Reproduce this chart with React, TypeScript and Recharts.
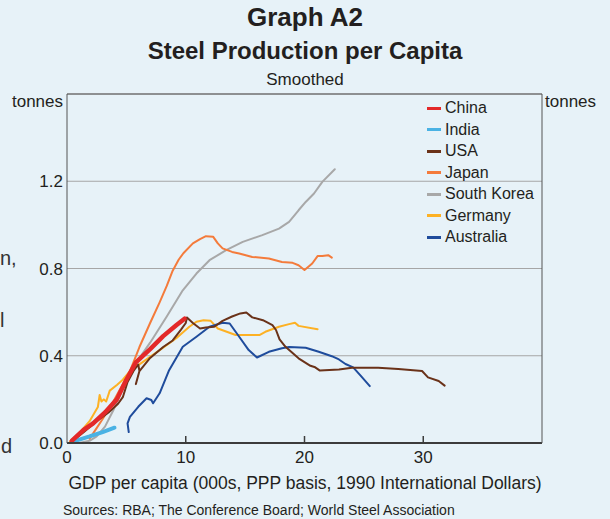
import { LineChart, Line, XAxis, YAxis, CartesianGrid, ReferenceLine } from 'recharts';

const FONT = "Arial, 'Liberation Sans', Helvetica, sans-serif";
const INK = '#231F20';
const BG = '#E7F2F8';

type Pt = [number, number];

// GDP per capita (000s) vs steel production per capita (tonnes)
const china: Pt[] = [
  [0.4, 0.01], [1.4, 0.06], [2.2, 0.09], [3.2, 0.14], [4.2, 0.2], [5.0, 0.29],
  [5.8, 0.37], [7.0, 0.43], [8.1, 0.49], [9.2, 0.54], [9.9, 0.57],
];
const india: Pt[] = [[0.7, 0.01], [1.9, 0.03], [3.0, 0.05], [4.0, 0.07]];
const usa: Pt[] = [
  [0.25, 0.0], [1.4, 0.05], [2.5, 0.1], [3.5, 0.14], [4.3, 0.18], [4.7, 0.21], [5.1, 0.28],
  [5.6, 0.33], [6.0, 0.36], [6.1, 0.33], [5.8, 0.27], [6.1, 0.33], [7.0, 0.39], [8.1, 0.44],
  [8.9, 0.47], [9.6, 0.52], [10.0, 0.55], [10.1, 0.575], [10.6, 0.55], [11.2, 0.525],
  [11.7, 0.53], [12.4, 0.533], [13.1, 0.56], [13.9, 0.58], [14.6, 0.594], [15.1, 0.598],
  [15.6, 0.576], [16.5, 0.563], [17.3, 0.54], [17.6, 0.518], [17.9, 0.475], [18.4, 0.441],
  [19.5, 0.388], [20.5, 0.354], [20.9, 0.347], [21.3, 0.332], [22.9, 0.337], [24.0, 0.345],
  [26.2, 0.345], [27.9, 0.339], [29.9, 0.33], [30.4, 0.301], [31.3, 0.284], [31.8, 0.263],
];
const japan: Pt[] = [
  [1.9, 0.02], [2.4, 0.06], [3.0, 0.11], [3.8, 0.18], [4.5, 0.25], [5.3, 0.33], [6.1, 0.44],
  [7.0, 0.55], [7.8, 0.645], [8.4, 0.72], [8.9, 0.79], [9.4, 0.84], [9.8, 0.87], [10.6, 0.915],
  [11.2, 0.935], [11.7, 0.948], [12.3, 0.946], [12.7, 0.915], [13.1, 0.892], [13.9, 0.876],
  [14.5, 0.869], [15.6, 0.853], [17.0, 0.846], [18.1, 0.83], [19.0, 0.826], [19.5, 0.815],
  [20.0, 0.793], [20.65, 0.823], [21.1, 0.857], [21.5, 0.857], [22.0, 0.861], [22.3, 0.85],
];
const southKorea: Pt[] = [
  [1.0, 0.0], [1.9, 0.01], [2.5, 0.03], [3.2, 0.075], [3.9, 0.15], [4.6, 0.24], [5.6, 0.35],
  [7.0, 0.46], [8.4, 0.58], [9.75, 0.7], [10.9, 0.777], [12.0, 0.838], [13.4, 0.884],
  [14.8, 0.922], [16.45, 0.953], [17.85, 0.983], [18.7, 1.014], [19.5, 1.067], [20.1, 1.105],
  [20.8, 1.144], [21.5, 1.197], [22.55, 1.255],
];
const germany: Pt[] = [
  [0.25, 0.006], [1.1, 0.05], [1.9, 0.1], [2.6, 0.165], [2.75, 0.22], [2.9, 0.19], [3.1, 0.2],
  [3.3, 0.19], [3.6, 0.24], [4.2, 0.266], [4.7, 0.29], [5.3, 0.33], [6.4, 0.372], [7.8, 0.426],
  [9.2, 0.48], [10.3, 0.533], [10.9, 0.556], [11.5, 0.563], [12.1, 0.56], [12.7, 0.525],
  [14.2, 0.495], [16.2, 0.495], [16.7, 0.51], [17.85, 0.533], [18.7, 0.545], [19.2, 0.551],
  [19.5, 0.537], [21.1, 0.521],
];
const australia: Pt[] = [
  [5.2, 0.05], [5.1, 0.09], [5.3, 0.12], [6.0, 0.166], [6.7, 0.205], [7.1, 0.197], [7.25, 0.182],
  [7.8, 0.228], [8.6, 0.334], [9.75, 0.441], [10.9, 0.487], [12.0, 0.533], [13.1, 0.551],
  [13.7, 0.548], [14.5, 0.487], [15.3, 0.426], [16.0, 0.392], [17.0, 0.418], [18.1, 0.434],
  [18.7, 0.44], [20.1, 0.437], [21.2, 0.418], [22.3, 0.398], [22.9, 0.383], [23.45, 0.362],
  [24.1, 0.347], [24.8, 0.304], [25.5, 0.261],
];

const X_TICKS = [0, 10, 20, 30];
const Y_TICKS = [0, 0.4, 0.8, 1.2];

const SERIES = [
  { name: 'China', color: '#E3292A', width: 4.5, points: china },
  { name: 'India', color: '#4AB2E4', width: 4, points: india },
  { name: 'USA', color: '#6A3219', width: 2, points: usa },
  { name: 'Japan', color: '#F47B3B', width: 2, points: japan },
  { name: 'South Korea', color: '#A8A8A8', width: 2, points: southKorea },
  { name: 'Germany', color: '#FDB124', width: 2, points: germany },
  { name: 'Australia', color: '#1F4C9C', width: 2, points: australia },
];
const DRAW_ORDER = ['South Korea', 'Japan', 'Germany', 'Australia', 'USA', 'India', 'China'];

const yTick = { fontSize: 17, fill: INK, fontFamily: FONT };

function XTick({ x, y, payload }: any) {
  return (
    <g>
      {payload.value > 0 && (
        <line x1={x} x2={x} y1={y} y2={y - 7} stroke="#3C3C3C" strokeWidth={1.5} />
      )}
      <text x={x} y={y + 20} textAnchor="middle" fontSize={17} fill={INK} fontFamily={FONT}>
        {payload.value}
      </text>
    </g>
  );
}

const abs = (top: number, extra: React.CSSProperties = {}): React.CSSProperties => ({
  position: 'absolute', top, whiteSpace: 'nowrap', ...extra,
});

export default function App() {
  return (
    <div style={{
      position: 'absolute', left: 0, top: 0, width: 610, height: 519,
      background: BG, fontFamily: FONT, color: INK, overflow: 'hidden',
    }}>
      <LineChart
        width={610}
        height={519}
        margin={{ top: 94, right: 0, bottom: 0, left: 0 }}
        style={{ position: 'absolute', left: 0, top: 0 }}
      >
        <CartesianGrid yAxisId="left" vertical={false} stroke="#A6A6A6" />
        <XAxis
          type="number" dataKey="x" domain={[0, 40]} ticks={X_TICKS} height={76}
          tickSize={0} tickMargin={0} tickLine={false} tick={<XTick />}
          axisLine={{ stroke: '#3C3C3C', strokeWidth: 2 }} allowDataOverflow
        />
        <YAxis
          yAxisId="left" orientation="left" width={67} domain={[0, 1.6]} ticks={Y_TICKS}
          tickFormatter={(v: number) => v.toFixed(1)} tickSize={0} tickMargin={4}
          tickLine={false} tick={yTick} axisLine={{ stroke: '#555' }}
        />
        <YAxis
          yAxisId="right" orientation="right" width={68} domain={[0, 1.6]} ticks={Y_TICKS}
          tickFormatter={(v: number) => v.toFixed(1)} tickSize={0} tickMargin={3}
          tickLine={false} tick={yTick} axisLine={{ stroke: '#555' }}
        />
        <ReferenceLine yAxisId="left" y={1.6} stroke="#555" ifOverflow="visible" />
        {DRAW_ORDER.map((n) => {
          const s = SERIES.find((d) => d.name === n)!;
          return (
            <Line
              key={s.name}
              name={s.name}
              yAxisId="left"
              data={s.points.map(([x, y]) => ({ x, y }))}
              dataKey="y"
              type="linear"
              stroke={s.color}
              strokeWidth={s.width}
              strokeLinejoin="round"
              strokeLinecap="round"
              dot={false}
              activeDot={false}
              isAnimationActive={false}
            />
          );
        })}
      </LineChart>

      {/* titles */}
      <div style={abs(4, { left: 0, width: 610, textAlign: 'center', fontSize: 26, lineHeight: '26px', fontWeight: 700 })}>
        Graph A2
      </div>
      <div style={abs(39, { left: 0, width: 610, textAlign: 'center', fontSize: 24, lineHeight: '24px', fontWeight: 700 })}>
        Steel Production per Capita
      </div>
      <div style={abs(71, { left: 0, width: 610, textAlign: 'center', fontSize: 17, lineHeight: '17px' })}>
        Smoothed
      </div>

      {/* axis units */}
      <div style={abs(93, { left: 0, width: 63, textAlign: 'right', fontSize: 17, lineHeight: '17px' })}>tonnes</div>
      <div style={abs(93, { left: 545, fontSize: 17, lineHeight: '17px' })}>tonnes</div>

      {/* legend */}
      {SERIES.map((s, i) => (
        <div key={s.name} style={abs(100 + i * 21.5, { left: 427, height: 16, display: 'flex', alignItems: 'center' })}>
          <span style={{ display: 'inline-block', width: 14, height: 3, background: s.color, marginRight: 4 }} />
          <span style={{ fontSize: 16, lineHeight: '16px' }}>{s.name}</span>
        </div>
      ))}

      {/* x axis title and source */}
      <div style={abs(475, { left: 0, width: 610, textAlign: 'center', fontSize: 17.5, lineHeight: '17.5px' })}>
        GDP per capita (000s, PPP basis, 1990 International Dollars)
      </div>
      <div style={abs(503, { left: 63, fontSize: 14, lineHeight: '14px' })}>
        Sources: RBA; The Conference Board; World Steel Association
      </div>

      {/* text fragments from the neighbouring page column, at the left edge */}
      <div style={abs(248, { left: 0, fontSize: 20, lineHeight: '20px', color: '#333' })}>n,</div>
      <div style={abs(310, { left: 0, fontSize: 20, lineHeight: '20px', color: '#333' })}>l</div>
      <div style={abs(436, { left: 1, fontSize: 20, lineHeight: '20px', color: '#333' })}>d</div>
    </div>
  );
}
